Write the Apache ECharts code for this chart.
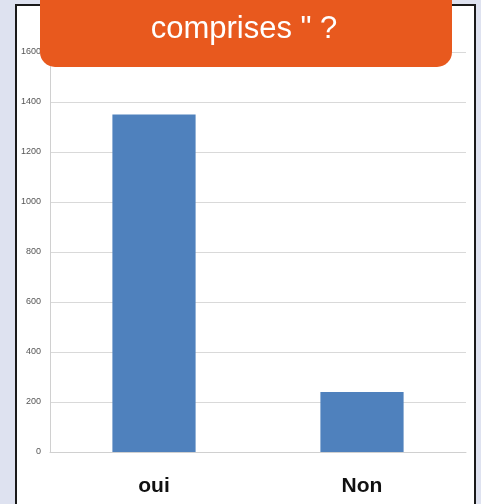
<!DOCTYPE html>
<html>
<head>
<meta charset="utf-8">
<script src="https://cdn.jsdelivr.net/npm/echarts@6/dist/echarts.min.js"></script>
<style>
html,body{margin:0;padding:0;background:#dee2f0;}
#c{width:481px;height:504px;}
</style>
</head>
<body>
<div id="c"></div>
<script>
const categories = ['oui', 'Non'];
const values = [1350, 240];
const titleText = 'comprises " ?';

const chart = echarts.init(document.getElementById('c'), null, {renderer: 'canvas'});
chart.setOption({
  backgroundColor: '#dee2f0',
  animation: false,
  title: {
    text: titleText,
    left: 239,
    textAlign: 'center',
    top: 9,
    textStyle: {color: '#ffffff', fontSize: 31, fontWeight: 'normal', fontFamily: 'Liberation Sans'},
    z: 200
  },
  graphic: [
    {type: 'rect', z: -10, shape: {x: 16, y: 5, width: 459, height: 520},
      style: {fill: '#ffffff', stroke: '#1a1a1a', lineWidth: 2}},
    {type: 'rect', z: 100, shape: {x: 40, y: -20, width: 412, height: 87, r: [0, 0, 15, 15]},
      style: {fill: '#e8591e'}}
  ],
  grid: {left: 50, right: 15, top: 52, bottom: 52, containLabel: false},
  xAxis: {
    type: 'category',
    data: categories,
    axisLine: {show: true, lineStyle: {color: '#d0d0d0', width: 1}},
    axisTick: {show: false},
    axisLabel: {color: '#111', fontSize: 21, fontWeight: 'bold', fontFamily: 'Liberation Sans', margin: 24}
  },
  yAxis: {
    type: 'value',
    min: 0, max: 1600, interval: 200,
    axisLine: {show: true, lineStyle: {color: '#d0d0d0', width: 1}},
    axisTick: {show: false},
    splitLine: {lineStyle: {color: '#d9d9d9', width: 1}},
    axisLabel: {color: '#555', fontSize: 9, fontFamily: 'Liberation Sans', margin: 9,
      formatter: function (v) { return String(v); }}
  },
  series: [{
    type: 'bar',
    data: values,
    barWidth: '40%',
    itemStyle: {color: '#4f81bd'}
  }]
});
</script>
</body>
</html>
